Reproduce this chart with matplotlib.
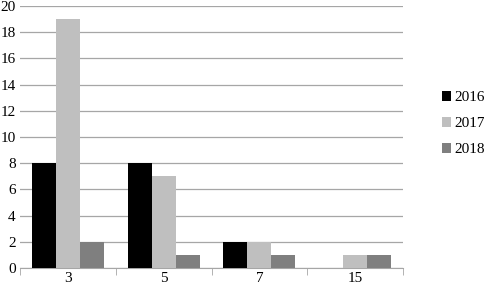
import matplotlib
matplotlib.use("Agg")
import matplotlib.pyplot as plt
import numpy as np

categories = ["3", "5", "7", "15"]
series_names = ["2016", "2017", "2018"]
v2016 = [8, 8, 2, 0]
v2017 = [19, 7, 2, 1]
v2018 = [2, 1, 1, 1]
colors = ["#000000", "#bfbfbf", "#7f7f7f"]

plt.rcParams['font.family'] = ['Liberation Serif', 'DejaVu Serif']

fig = plt.figure(figsize=(4.86, 2.87), dpi=100)
ax = fig.add_axes([20/486, 19/287, 383/486, 262/287])

x = np.arange(len(categories))
w = 0.25
for i, (vals, name, c) in enumerate(zip([v2016, v2017, v2018], series_names, colors)):
    ax.bar(x + (i - 1) * w, vals, width=w, color=c, label=name, zorder=3)

ax.set_xlim(-0.5, len(categories) - 0.5)
ax.set_ylim(0, 20)
ax.set_yticks(range(0, 21, 2))
ax.set_xticks(x)
ax.set_xticklabels(categories)
ax.set_xticks(np.arange(-0.5, len(categories), 1), minor=True)
ax.tick_params(axis='x', which='major', length=0, labelsize=11, pad=3)
ax.tick_params(axis='x', which='minor', length=5, color='#a6a6a6', direction='out')
ax.tick_params(axis='y', length=0, labelsize=11, pad=3)
ax.grid(axis='y', color='#a6a6a6', linewidth=0.9, zorder=0)
for s in ['top', 'right', 'left']:
    ax.spines[s].set_visible(False)
ax.spines['bottom'].set_color('#a6a6a6')

leg = ax.legend(loc='center left', bbox_to_anchor=(1.087, 0.55), frameon=False,
                fontsize=11, handlelength=0.55, handleheight=0.55, handletextpad=0.25,
                labelspacing=0.85, borderaxespad=0.0)

fig.savefig("out.png", dpi=100)
